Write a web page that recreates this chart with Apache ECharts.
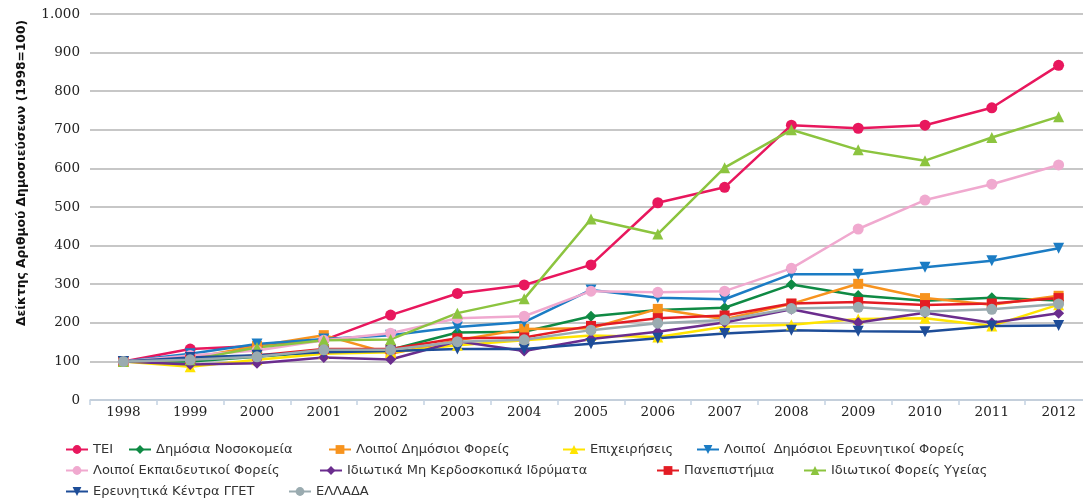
<!DOCTYPE html>
<html>
<head>
<meta charset="utf-8">
<script src="https://cdn.jsdelivr.net/npm/echarts@6/dist/echarts.min.js"></script>
<style>
  html, body { margin: 0; padding: 0; background: #fff; }
  #chart { width: 1083px; height: 498px; }
</style>
</head>
<body>
<div id="chart"></div>
<script>
  // years on the x axis
  var years = ['1998', '1999', '2000', '2001', '2002', '2003', '2004', '2005', '2006', '2007', '2008', '2009', '2010', '2011', '2012'];

  // index values (1998=100)
  var tei          = [100, 132, 140, 155, 220, 276, 298, 350, 511, 551, 712, 704, 712, 757, 867];
  var nosokomeia   = [100, 100, 112, 125, 130, 175, 177, 217, 233, 239, 299, 271, 257, 265, 258];
  var loipoiDimos  = [100, 108, 140, 168, 120, 155, 184, 186, 236, 209, 249, 301, 264, 247, 270];
  var epixeiriseis = [100, 86, 104, 120, 124, 142, 155, 167, 163, 190, 195, 210, 212, 192, 247];
  var loipoiErevn  = [100, 120, 145, 158, 168, 189, 202, 285, 265, 261, 326, 326, 344, 361, 393];
  var loipoiEkp    = [100, 115, 128, 155, 173, 212, 217, 282, 279, 282, 341, 443, 518, 559, 609];
  var idiotikaMK   = [100, 92, 95, 110, 105, 152, 127, 158, 177, 201, 235, 201, 226, 200, 225];
  var panepistimia = [100, 105, 115, 132, 132, 160, 162, 192, 212, 219, 250, 254, 246, 250, 264];
  var ygeias       = [100, 104, 136, 155, 157, 225, 262, 469, 430, 602, 700, 648, 620, 680, 734];
  var ggetKentra   = [100, 110, 116, 124, 127, 132, 132, 146, 160, 172, 181, 178, 177, 192, 193];
  var ellada       = [100, 104, 112, 130, 130, 151, 156, 181, 199, 207, 237, 240, 229, 235, 249];

  // y axis ticks
  var yTicks = { min: 0, max: 1000, interval: 100 };

  var seriesDefs = [
    { name: 'ΤΕΙ', data: tei, color: '#e8175d', symbol: 'circle', size: 11 },
    { name: 'Δημόσια Νοσοκομεία', data: nosokomeia, color: '#0f8a44', symbol: 'diamond', size: 11 },
    { name: 'Λοιποί Δημόσιοι Φορείς', data: loipoiDimos, color: '#f7931e', symbol: 'rect', size: 10 },
    { name: 'Επιχειρήσεις', data: epixeiriseis, color: '#ffe400', symbol: 'triangle', size: 11 },
    { name: 'Λοιποί  Δημόσιοι Ερευνητικοί Φορείς', data: loipoiErevn, color: '#1b7cc4', symbol: 'triangle', size: 11, rotate: 180 },
    { name: 'Λοιποί Εκπαιδευτικοί Φορείς', data: loipoiEkp, color: '#f0a9cf', symbol: 'circle', size: 11 },
    { name: 'Ιδιωτικά Μη Κερδοσκοπικά Ιδρύματα', data: idiotikaMK, color: '#6b2d8e', symbol: 'diamond', size: 11 },
    { name: 'Πανεπιστήμια', data: panepistimia, color: '#e31c24', symbol: 'rect', size: 10 },
    { name: 'Ιδιωτικοί Φορείς Υγείας', data: ygeias, color: '#8cc43f', symbol: 'triangle', size: 11 },
    { name: 'Ερευνητικά Κέντρα ΓΓΕΤ', data: ggetKentra, color: '#1e4d98', symbol: 'triangle', size: 11, rotate: 180 },
    { name: 'ΕΛΛΑΔΑ', data: ellada, color: '#9aabb0', symbol: 'circle', size: 11 }
  ];

  // legend slots, Excel-style rows
  var legendPos = [
    [65, 443], [128, 443], [328, 443], [562, 443], [696, 443],
    [65, 464], [319, 464], [656, 464], [803, 464],
    [65, 485], [288, 485]
  ];

  var series = seriesDefs.map(function (s) {
    return {
      name: s.name,
      type: 'line',
      data: s.data,
      symbol: s.symbol,
      symbolSize: s.size,
      symbolRotate: s.rotate || 0,
      color: s.color,
      lineStyle: { width: 2.5, color: s.color },
      itemStyle: { color: s.color },
      animation: false
    };
  });

  var legends = seriesDefs.map(function (s, i) {
    return {
      data: [s.name],
      left: legendPos[i][0],
      top: legendPos[i][1],
      itemWidth: 22,
      itemHeight: 11,
      padding: 0,
      textStyle: { fontFamily: 'DejaVu Sans', fontSize: 13, color: '#333' }
    };
  });

  var chart = echarts.init(document.getElementById('chart'));

  var option = {
    backgroundColor: '#fff',
    animation: false,
    grid: {
      left: 90,
      width: 1002,
      top: 14,
      bottom: 98,
      outerBoundsMode: 'none'
    },
    legend: legends,
    xAxis: {
      type: 'category',
      data: years,
      boundaryGap: true,
      axisLine: { lineStyle: { color: '#c3d2e2', width: 1.5 } },
      axisTick: { show: true, length: 5, lineStyle: { color: '#c3d2e2', width: 1.5 } },
      axisLabel: { fontFamily: 'DejaVu Serif', fontSize: 13.5, color: '#222', margin: 5 }
    },
    yAxis: {
      type: 'value',
      min: yTicks.min,
      max: yTicks.max,
      interval: yTicks.interval,
      name: 'Δείκτης Αριθμού Δημοσιεύσεων (1998=100)',
      nameLocation: 'middle',
      nameGap: 62,
      nameTextStyle: {
        fontFamily: 'DejaVu Sans',
        fontWeight: 'bold',
        fontSize: 12.3,
        color: '#111',
        padding: [0, 0, 0, 68]
      },
      axisLine: { show: false },
      axisTick: { show: false },
      splitLine: { lineStyle: { color: '#b4b4b4', width: 1.5 } },
      axisLabel: {
        fontFamily: 'DejaVu Serif',
        fontSize: 13.5,
        color: '#222',
        margin: 10,
        formatter: function (v) {
          return v >= 1000 ? String(v).replace(/\B(?=(\d{3})+(?!\d))/g, '.') : v;
        }
      }
    },
    series: series
  };

  chart.setOption(option);
</script>
</body>
</html>
